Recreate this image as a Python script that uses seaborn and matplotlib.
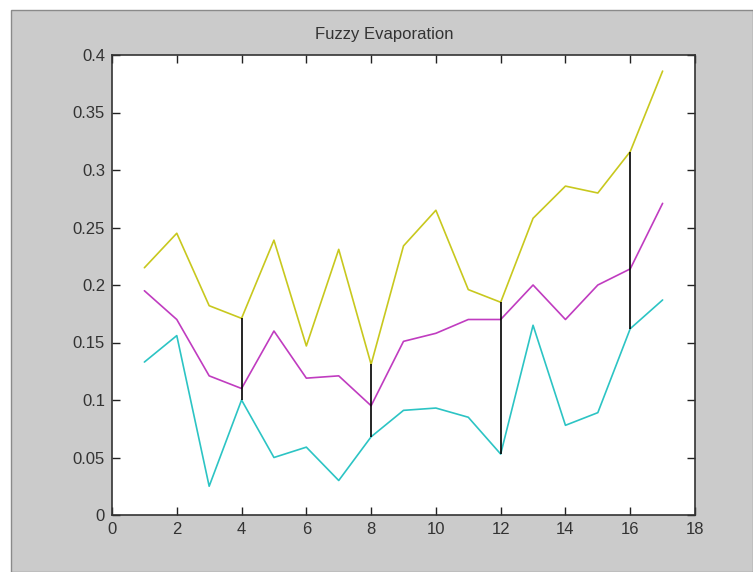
import numpy as np
import pandas as pd
import matplotlib
matplotlib.use("Agg")
import matplotlib.pyplot as plt
import seaborn as sns
from matplotlib.patches import Rectangle

# ---- data ----
x_vals = list(range(1, 18))
upper = [0.215, 0.245, 0.182, 0.171, 0.239, 0.147, 0.231, 0.131, 0.234,
         0.265, 0.196, 0.185, 0.258, 0.286, 0.280, 0.316, 0.386]
middle = [0.195, 0.170, 0.121, 0.110, 0.160, 0.119, 0.121, 0.095, 0.151,
          0.158, 0.170, 0.170, 0.200, 0.170, 0.200, 0.214, 0.271]
lower = [0.133, 0.156, 0.025, 0.100, 0.050, 0.059, 0.030, 0.068, 0.091,
         0.093, 0.085, 0.053, 0.165, 0.078, 0.089, 0.162, 0.187]
marked_x = [4, 8, 12, 16]
x_ticks = list(range(0, 19, 2))
y_ticks = [0, 0.05, 0.1, 0.15, 0.2, 0.25, 0.3, 0.35, 0.4]
y_tick_labels = ["0", "0.05", "0.1", "0.15", "0.2", "0.25", "0.3", "0.35", "0.4"]
title = "Fuzzy Evaporation"

sns.set_theme(style="white")
plt.rcParams['font.family'] = ['Liberation Sans', 'DejaVu Sans']

fig = plt.figure(figsize=(7.53, 5.72), dpi=100)
fig.patch.set_facecolor("white")
W, H = 753, 572
# gray window background with a thin border
bg = Rectangle((11 / W, 0), 1 - 11 / W, 1 - 10 / H, transform=fig.transFigure,
               facecolor="#cbcbcb", edgecolor="#8a8a8a", linewidth=1.0, zorder=-10)
fig.patches.append(bg)

ax = fig.add_axes([112 / W, 57 / H, (695 - 112) / W, (515 - 55) / H])
ax.set_zorder(1)
ax.set_facecolor("white")

df = pd.DataFrame({"x": x_vals, "upper": upper, "middle": middle, "lower": lower})
sns.lineplot(data=df, x="x", y="upper", ax=ax, color="#c8c81e", linewidth=1.2)
sns.lineplot(data=df, x="x", y="middle", ax=ax, color="#c03cc0", linewidth=1.2)
sns.lineplot(data=df, x="x", y="lower", ax=ax, color="#2cc4c4", linewidth=1.2)

lo = [lower[x_vals.index(m)] for m in marked_x]
hi = [upper[x_vals.index(m)] for m in marked_x]
ax.vlines(marked_x, lo, hi, colors="black", linewidth=1.2, zorder=3)

ax.set_xlim(0, 18)
ax.set_ylim(0, 0.4)
ax.set_xticks(x_ticks)
ax.set_yticks(y_ticks)
ax.set_yticklabels(y_tick_labels)
ax.set_xlabel("")
ax.set_ylabel("")
ax.tick_params(direction="in", length=6, width=1, color="#222222",
               top=True, right=True, bottom=True, left=True,
               labelsize=12, labelcolor="#333333", pad=5)
for s in ax.spines.values():
    s.set_color("#333333")
    s.set_linewidth(1.2)

fig.text(384 / W, 1 - 35 / H, title, ha="center", va="center", fontsize=12, color="#333333")

fig.savefig("out.png", dpi=100, facecolor=fig.get_facecolor())
